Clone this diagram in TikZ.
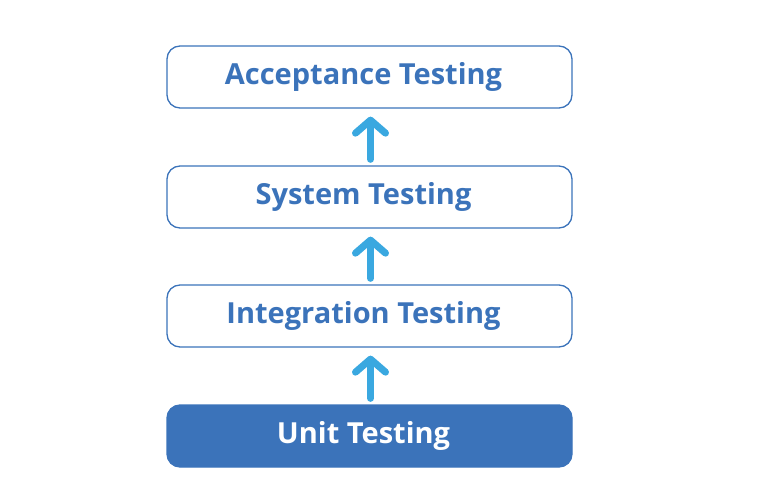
\documentclass[tikz,border=0pt]{standalone}
\usepackage{fontspec}
\setmainfont{Open Sans}
\usetikzlibrary{positioning,arrows.meta}
\definecolor{level-blue}{RGB}{59, 115, 186}
\definecolor{arrow-blue}{RGB}{58, 168, 224}
\tikzset{
  level/.style={draw=level-blue, line width=1.3pt, rounded corners=13pt,
    minimum width=405pt, minimum height=62pt, text=level-blue,
    font=\fontsize{29}{32}\selectfont\bfseries},
  base/.style={level, fill=level-blue, text=white},
  up/.style={draw=arrow-blue, line width=7pt, line cap=round,
    -{Straight Barb[round, length=13pt, width=30pt]}}
}
\begin{document}
\begin{tikzpicture}[x=1pt, y=1pt]
\useasboundingbox (0,0) rectangle (768,480);
\node[base]  (unit)       at (369.5,44)  {\hspace*{-12pt}\raisebox{-3pt}{Unit Testing}};
\node[level] (integ)      at (369.5,164) {\hspace*{-12pt}\raisebox{-3pt}{Integration Testing}};
\node[level] (system)     at (369.5,283) {\hspace*{-12pt}\raisebox{-3pt}{System Testing}};
\node[level] (accept)     at (369.5,403) {\hspace*{-12pt}\raisebox{-3pt}{Acceptance Testing}};

\draw[up] ([xshift=1pt,yshift=6pt]unit.north)   -- ([xshift=1pt,yshift=-8pt]integ.south);
\draw[up] ([xshift=1pt,yshift=6pt]integ.north)  -- ([xshift=1pt,yshift=-8pt]system.south);
\draw[up] ([xshift=1pt,yshift=6pt]system.north) -- ([xshift=1pt,yshift=-8pt]accept.south);
\end{tikzpicture}
\end{document}
